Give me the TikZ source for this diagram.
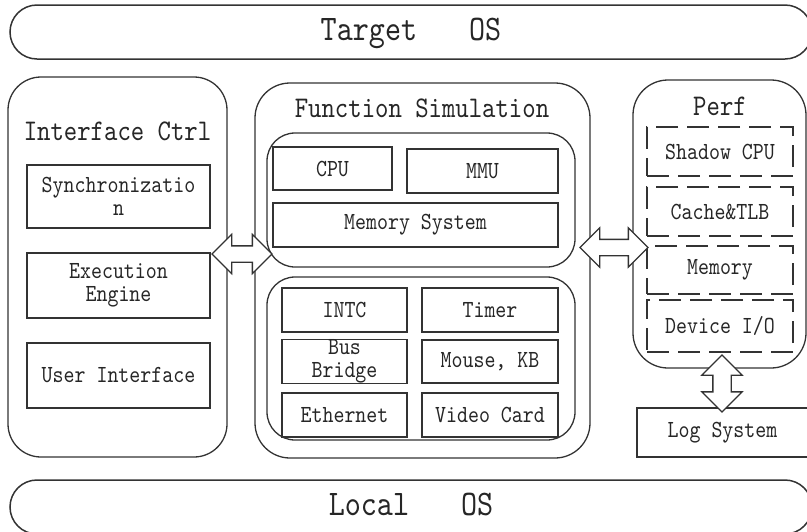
\documentclass[tikz,border=0pt]{standalone}
\usepackage{fontspec}
\usetikzlibrary{shapes.arrows}
\newfontfamily\dfont{lmmono10-regular.otf}[FakeStretch=0.85]
\newcommand{\innerfont}{\dfont\fontsize{24.6}{23}\selectfont}
\newcommand{\titlefont}{\dfont\fontsize{30}{30}\selectfont}
\newcommand{\barfont}{\dfont\fontsize{36}{36}\selectfont}
\begin{document}
\begin{tikzpicture}[x=1pt,y=-1pt,line width=1.3pt,
  every node/.style={text=black!85,inner sep=0pt,align=center},
  bx/.style 2 args={draw=black!80,rectangle,minimum width=#1,minimum height=#2,font=\innerfont},
  dbx/.style 2 args={bx={#1}{#2},dash pattern=on 22pt off 9pt},
  rbx/.style n args={3}{draw=black!80,rectangle,rounded corners=#3,minimum width=#1,minimum height=#2},
  bar/.style={draw=black!80,line width=1.5pt,rectangle,rounded corners=27pt,minimum width=802pt,minimum height=54pt,font=\barfont,text depth=5pt},
  title/.style={font=\titlefont},
  blk/.style={double arrow,draw=black!80,fill=white,inner xsep=0pt,inner ysep=7.5pt,double arrow head extend=11.5pt,minimum width=38pt}]
\useasboundingbox (0,0) rectangle (807,531);
\clip (0,0) rectangle (807,531);
% OS bars
\node[bar] (tos) at (411,32) {Target\hspace{52pt}OS};
\node[bar] (los) at (411,507) {Local\hspace{52pt}OS};
% Interface Ctrl
\node[rbx={219pt}{380pt}{33pt}] (ictrl) at (117.5,267) {};
\node[title] (ictrlt) at (117.5,131) {Interface Ctrl};
\node[bx={183pt}{63pt}] (sync) at (118.5,196.5) {Synchronizatio\\[0pt]n};
\node[bx={183pt}{65pt}] (exec) at (118.5,285.5) {Execution\\[0pt]Engine};
\node[bx={183pt}{65pt}] (user) at (118.5,375.5) {User Interface};
% Function Simulation
\node[rbx={335pt}{375pt}{35pt}] (fsim) at (422.5,270.5) {};
\node[title] (fsimt) at (422,108) {Function Simulation};
\node[rbx={308pt}{134pt}{28pt}] (up) at (421,200) {};
\node[bx={119pt}{43pt}] (cpu) at (332.5,168.5) {CPU};
\node[bx={151pt}{44pt}] (mmu) at (482.5,171) {MMU};
\node[bx={285pt}{44pt}] (msys) at (415.5,225) {Memory System};
\node[rbx={308pt}{163pt}{28pt}] (lo) at (421,358.5) {};
\node[bx={125pt}{44pt}] (intc) at (344.5,310) {INTC};
\node[bx={136pt}{44pt}] (timer) at (490,310) {Timer};
\node[bx={125pt}{43pt}] (bus) at (344.5,361.5) {Bus\\[0pt]Bridge};
\node[bx={136pt}{43pt}] (mouse) at (490,361.5) {Mouse, KB};
\node[bx={125pt}{44pt}] (eth) at (344.5,415) {Ethernet};
\node[bx={136pt}{44pt}] (video) at (490,415) {Video Card};
% Perf
\node[rbx={173pt}{288pt}{35pt}] (perf) at (719.5,224) {};
\node[title] (perft) at (720,106) {Perf};
\node[dbx={146pt}{49pt}] (shadow) at (720,151.5) {Shadow CPU};
\node[dbx={146pt}{49pt}] (cache) at (720,211.5) {Cache\&TLB};
\node[dbx={146pt}{48pt}] (pmem) at (720,270) {Memory};
\node[dbx={146pt}{52pt}] (dev) at (720,326) {Device I/O};
\node[bx={171pt}{49pt}] (log) at (722.5,432.5) {Log System};
% block arrows
\node[blk,minimum height=60pt] (a1) at (242,254) {};
\node[blk,minimum height=68pt] (a2) at (614,247.5) {};
\node[blk,minimum height=57pt,inner xsep=8.5pt,inner ysep=0pt,double arrow head extend=11pt,shape border rotate=90] (a3) at (722,383.5) {};
\end{tikzpicture}
\end{document}
